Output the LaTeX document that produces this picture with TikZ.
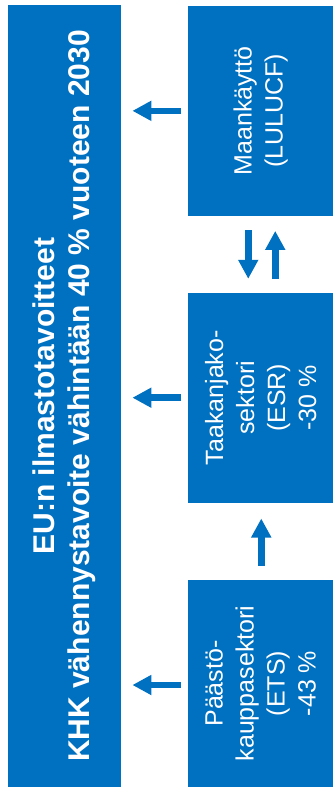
\documentclass[tikz,border=0pt]{standalone}
\usepackage{fontspec}
\setmainfont{Liberation Sans}
\usetikzlibrary{arrows.meta}
\definecolor{eublue}{RGB}{0,112,192}
\begin{document}
\begin{tikzpicture}[x=1pt,y=-1pt,
  box/.style={fill=eublue, text=white, inner sep=0pt, rotate=90, align=center},
  sidebox/.style={box, minimum height=144.7pt, font=\fontsize{25}{31}\selectfont},
  arr/.style={draw=eublue, line width=6.6pt, -{Triangle[length=19pt,width=19pt]}}]
\useasboundingbox (0,0) rectangle (333,787);
\node[box, minimum width=782pt, minimum height=112.7pt,
  font=\bfseries\fontsize{30}{35.5}\selectfont] (goal) at (64.35,396)
  {EU:n ilmastotavoitteet\\KHK vähennystavoite vähintään 40 \% vuoteen 2030};
\node[sidebox, minimum width=209.7pt] (lulucf) at (260.65,110.85) {Maankäyttö\\(LULUCF)};
\node[sidebox, minimum width=210pt] (esr) at (260.65,397.7) {Taakanjako-\\sektori\\(ESR)\\-30 \%};
\node[sidebox, minimum width=207pt] (ets) at (260.65,683.5) {Päästö-\\kauppasektori\\(ETS)\\-43 \%};
% arrows to the goal box
\draw[arr] ([xshift=-7pt]lulucf.north) -- ([xshift=11.5pt]lulucf.north -| goal.south);
\draw[arr] ([xshift=-7pt]esr.north) -- ([xshift=11.5pt]esr.north -| goal.south);
\draw[arr] ([xshift=-7pt,yshift=-1.5pt]ets.north) -- ([xshift=11.5pt,yshift=-1.5pt]ets.north -| goal.south);
% between sectors
\draw[arr] ([xshift=-12.4pt,yshift=-14.3pt]lulucf.west) -- ([xshift=-12.4pt,yshift=13.7pt]esr.east);
\draw[arr] ([xshift=14.6pt,yshift=13.4pt]esr.east) -- ([xshift=14.6pt,yshift=-15pt]lulucf.west);
\draw[arr] ([xshift=0.6pt,yshift=14pt]ets.east) -- ([xshift=0.6pt,yshift=-15.6pt]esr.west);
\end{tikzpicture}
\end{document}
